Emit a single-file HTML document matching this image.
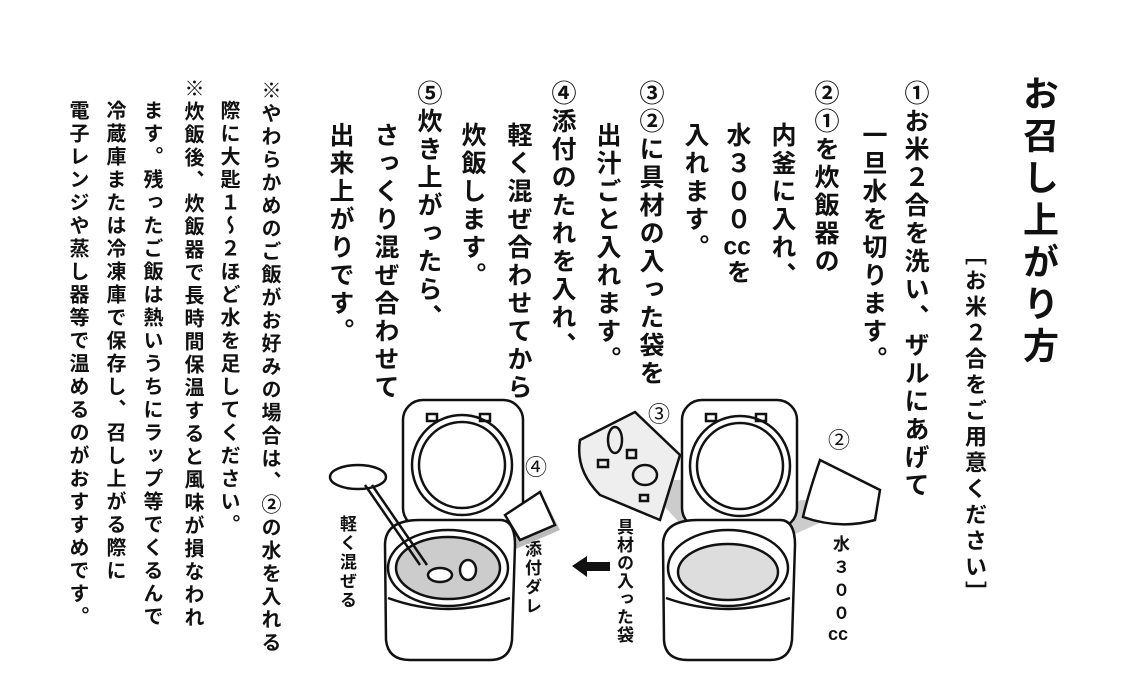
<!DOCTYPE html>
<html><head><meta charset="utf-8"><style>
body{margin:0;width:1142px;height:695px;background:#fff;overflow:hidden;position:relative;font-family:"Liberation Sans","Noto Sans CJK JP",sans-serif;color:#111}
.c{position:absolute;writing-mode:vertical-rl;text-orientation:upright;white-space:nowrap;line-height:1}
.m{font-size:25px;letter-spacing:3px;font-weight:700}
.n{font-size:20px;letter-spacing:3px;font-weight:700}
.tc{text-combine-upright:all}
svg{position:absolute;left:0;top:0}
</style></head><body>
<div class="c" style="left:1020px;top:75px;font-size:36px;letter-spacing:6px;font-weight:700">お召し上がり方</div>
<div class="c" style="left:963px;top:243px;font-size:22px;letter-spacing:4px;font-weight:700">［お米２合をご用意ください］</div>
<div class="c m" style="left:902px;top:80px">①お米２合を洗い、ザルにあげて</div>
<div class="c m" style="left:860px;top:122px">一旦水を切ります。</div>
<div class="c m" style="left:812px;top:80px">②①を炊飯器の</div>
<div class="c m" style="left:769px;top:122px">内釜に入れ、</div>
<div class="c m" style="left:724px;top:122px">水３００<span class="tc">cc</span>を</div>
<div class="c m" style="left:682px;top:122px">入れます。</div>
<div class="c m" style="left:637px;top:80px">③②に具材の入った袋を</div>
<div class="c m" style="left:594px;top:122px">出汁ごと入れます。</div>
<div class="c m" style="left:549px;top:80px">④添付のたれを入れ、</div>
<div class="c m" style="left:505px;top:122px">軽く混ぜ合わせてから</div>
<div class="c m" style="left:459px;top:122px">炊飯します。</div>
<div class="c m" style="left:415px;top:80px">⑤炊き上がったら、</div>
<div class="c m" style="left:372px;top:122px">さっくり混ぜ合わせて</div>
<div class="c m" style="left:327px;top:122px">出来上がりです。</div>
<div class="c n" style="left:259px;top:80px">※やわらかめのご飯がお好みの場合は、②の水を入れる</div>
<div class="c n" style="left:218px;top:100px">際に大匙１～２ほど水を足してください。</div>
<div class="c n" style="left:182px;top:78px">※炊飯後、炊飯器で長時間保温すると風味が損なわれ</div>
<div class="c n" style="left:141px;top:100px">ます。残ったご飯は熱いうちにラップ等でくるんで</div>
<div class="c n" style="left:104px;top:100px">冷蔵庫または冷凍庫で保存し、召し上がる際に</div>
<div class="c n" style="left:67px;top:100px">電子レンジや蒸し器等で温めるのがおすすめです。</div>

<div class="c" style="left:338px;top:515px;font-size:17px;letter-spacing:2px;font-weight:700">軽く混ぜる</div>
<div class="c" style="left:523px;top:540px;font-size:17px;letter-spacing:2px;font-weight:700">添付ダレ</div>
<div class="c" style="left:615px;top:518px;font-size:17px;letter-spacing:1px;font-weight:700">具材の入った袋</div>
<div class="c" style="left:831px;top:535px;font-size:17px;letter-spacing:6px;font-weight:700">水３００</div>
<div style="position:absolute;left:828px;top:624px;font-size:18px;font-weight:700">cc</div>

<svg width="1142" height="695" fill="none" stroke="#111" stroke-width="2.5">
<polygon points="470,520 545,500 560,530 490,560" fill="#bbb" stroke="none"/>
<rect x="403" y="400" width="120" height="128" rx="20" fill="#fff"/>
<circle cx="462" cy="465" r="50"/><circle cx="462" cy="465" r="43"/>
<rect x="427" y="414" width="10" height="7"/><rect x="480" y="414" width="10" height="7"/>
<path d="M385,545 Q385,520 420,520 L500,520 Q515,520 515,545 L512,640 Q510,660 490,660 L410,660 Q388,660 386,640 Z" fill="#fff"/>
<ellipse cx="448" cy="568" rx="60" ry="38" fill="#fff"/>
<ellipse cx="448" cy="568" rx="52" ry="31" fill="#ccc"/>
<path d="M388,598 Q448,620 510,598"/>
<ellipse cx="440" cy="575" rx="12" ry="7" fill="#fff"/><ellipse cx="468" cy="570" rx="8" ry="10" fill="#fff"/>
<ellipse cx="358" cy="477" rx="28" ry="12" fill="#fff"/>
<line x1="365" y1="485" x2="420" y2="565"/><line x1="372" y1="485" x2="427" y2="565"/>
<path d="M505,515 L540,492 L555,525 L520,540 Z" fill="#fff"/>
<text x="525" y="475" font-size="22" fill="#111" stroke="none" font-family="Liberation Sans,Noto Sans CJK JP,sans-serif">④</text>
<polygon points="572,566 587,556 587,562 610,562 610,571 587,571 587,577" fill="#111" stroke="none"/>
<polygon points="640,480 690,480 730,540 700,545" fill="#ccc" stroke="none"/>
<polygon points="800,500 870,500 760,550" fill="#ccc" stroke="none"/>
<rect x="682" y="400" width="115" height="128" rx="20" fill="#fff"/>
<circle cx="740" cy="466" r="50"/><circle cx="740" cy="466" r="43"/>
<rect x="706" y="414" width="10" height="7"/><rect x="756" y="414" width="10" height="7"/>
<path d="M663,545 Q663,520 698,520 L780,520 Q795,520 795,545 L792,640 Q790,660 770,660 L688,660 Q665,660 664,640 Z" fill="#fff"/>
<ellipse cx="728" cy="568" rx="60" ry="38" fill="#fff"/>
<ellipse cx="728" cy="572" rx="50" ry="28" fill="#ddd"/>
<path d="M666,598 Q728,620 790,598"/>
<path d="M580,440 L635,412 L680,455 L660,520 L600,495 Q575,470 580,440 Z" fill="#eee"/>
<ellipse cx="615" cy="440" rx="7" ry="13"/><ellipse cx="645" cy="475" rx="12" ry="10"/>
<rect x="598" y="460" width="10" height="7"/><rect x="627" y="450" width="9" height="8"/><rect x="640" y="495" width="8" height="6"/>
<path d="M820,460 Q808,495 803,517 Q840,530 875,520 L880,490 Z" fill="#fff"/>
<text x="648" y="422" font-size="22" fill="#111" stroke="none" font-family="Liberation Sans,Noto Sans CJK JP,sans-serif">③</text>
<text x="828" y="448" font-size="22" fill="#111" stroke="none" font-family="Liberation Sans,Noto Sans CJK JP,sans-serif">②</text>
</svg>
</body></html>
